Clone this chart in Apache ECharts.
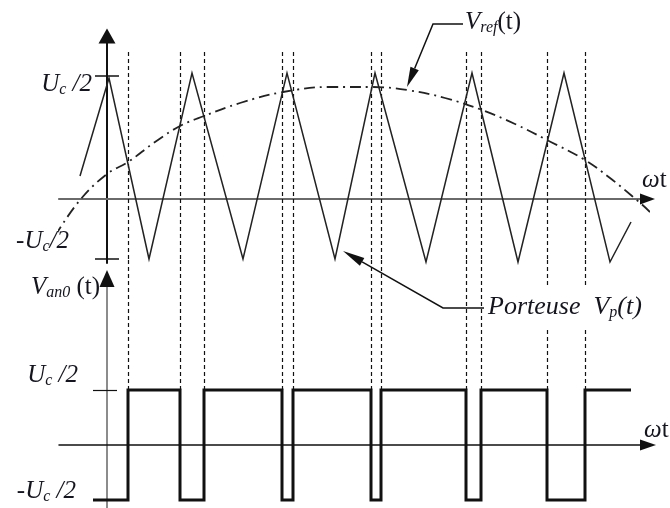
<!DOCTYPE html>
<html><head><meta charset="utf-8">
<script src="https://cdn.jsdelivr.net/npm/echarts@6/dist/echarts.min.js"></script>
<style>html,body{margin:0;padding:0;background:#fff}#c{width:670px;height:508px}</style>
</head><body><div id="c"></div>
<script>
// ---- data (ωt in drawing units, 0 = vertical axis; voltages in drawing units) ----
var carrierX = [-27, 2, 42, 85, 136, 180, 228, 268, 319, 365, 411, 457, 503, 524];
var carrierY = [23, 121, -60, 126, -60, 126, -60, 126, -63, 126, -63, 126, -63, -23];
var refX = [-52, -27, 0, 21, 48, 73, 97, 133, 176, 223, 265, 300, 338, 375, 408, 440, 478, 503, 525, 543, 563];
var refY = [-37, -1, 25, 37, 57, 73, 83, 96, 107, 112, 112, 109, 101, 89, 75, 59, 39, 21, 3, -13, -34];
var switchTimes = [21, 73, 97, 175, 186, 264, 274, 359, 374, 440, 478];
var pwmHigh = 55, pwmLow = -55, pwmStart = -14, pwmEnd = 524;
var topUc = 123, topMinusUc = -60;

var SERIF = "'Liberation Serif','DejaVu Serif',serif";
var INK = '#15151f';

function zip(a, b) { return a.map(function (v, i) { return [v, b[i]]; }); }

var pwm = [[pwmStart, pwmLow]], lvl = pwmLow;
switchTimes.forEach(function (t) {
  pwm.push([t, lvl]);
  lvl = (lvl === pwmHigh) ? pwmLow : pwmHigh;
  pwm.push([t, lvl]);
});
pwm.push([pwmEnd, lvl]);

var dashTop = switchTimes.map(function (t) { return { coords: [[t, 147], [t, -61]] }; });
var dashBot = switchTimes.map(function (t) { return { coords: [[t, 185], [t, pwmHigh]] }; });

var chart = echarts.init(document.getElementById('c'), null, { renderer: 'canvas' });

function rich(size) {
  return {
    i: { fontFamily: SERIF, fontStyle: 'italic', fontSize: size, lineHeight: 28, fill: INK, verticalAlign: 'middle' },
    n: { fontFamily: SERIF, fontStyle: 'normal', fontSize: size, lineHeight: 28, fill: INK, verticalAlign: 'middle' },
    s: { fontFamily: SERIF, fontStyle: 'italic', fontSize: Math.round(size * 0.62), lineHeight: 13, fill: INK, verticalAlign: 'bottom' }
  };
}
function txt(x, y, text, align, size) {
  return { type: 'text', x: x, y: y, z: 20,
    style: { text: text, rich: rich(size || 25), align: align, verticalAlign: 'middle', fill: INK } };
}
function arrowHead(from, tip, len, hw) {
  var dx = tip[0] - from[0], dy = tip[1] - from[1], L = Math.sqrt(dx * dx + dy * dy);
  var ux = dx / L, uy = dy / L;
  var bx = tip[0] - ux * len, by = tip[1] - uy * len;
  return { base: [bx, by], pts: [tip, [bx - uy * hw, by + ux * hw], [bx + uy * hw, by - ux * hw]] };
}
var a1 = arrowHead([433, 24], [407, 87], 20, 4.5);
var a2 = arrowHead([443, 308], [343, 251], 22, 4.5);

var axisOff = { show: false };
chart.setOption({
  animation: false,
  backgroundColor: '#fff',
  grid: [
    { left: 59, width: 589, top: 36, height: 227 },
    { left: 59, width: 589, top: 278.5, height: 229.5 }
  ],
  xAxis: [
    { gridIndex: 0, type: 'value', min: -48, max: 541, splitLine: axisOff, axisTick: axisOff, axisLabel: axisOff,
      axisLine: { show: true, onZero: true, symbol: 'none', lineStyle: { color: '#6a6a6a', width: 2.2 } } },
    { gridIndex: 1, type: 'value', min: -48, max: 541, splitLine: axisOff, axisTick: axisOff, axisLabel: axisOff,
      axisLine: { show: true, onZero: true, symbol: ['none', 'triangle'], symbolSize: [11, 16], lineStyle: { color: '#111', width: 1.5 } } }
  ],
  yAxis: [
    { gridIndex: 0, type: 'value', min: -64, max: 163, splitLine: axisOff, axisTick: axisOff, axisLabel: axisOff,
      axisLine: { show: true, onZero: true, symbol: ['none', 'triangle'], symbolSize: [17, 15], lineStyle: { color: '#111', width: 2 } } },
    { gridIndex: 1, type: 'value', min: -63, max: 166.5, splitLine: axisOff, axisTick: axisOff, axisLabel: axisOff,
      axisLine: { show: true, onZero: true, symbol: 'none', lineStyle: { color: '#666', width: 1.5 } } }
  ],
  series: [
    { type: 'line', xAxisIndex: 0, yAxisIndex: 0, data: zip(carrierX, carrierY), symbol: 'none', clip: false,
      lineStyle: { color: '#222', width: 1.5, join: 'miter' }, z: 5 },
    { type: 'line', xAxisIndex: 0, yAxisIndex: 0, data: zip(refX, refY), symbol: 'none', clip: false, smooth: 0.4,
      lineStyle: { color: '#222', width: 1.8, type: [11, 5, 2, 5] }, z: 5 },
    { type: 'lines', coordinateSystem: 'cartesian2d', xAxisIndex: 0, yAxisIndex: 0, data: dashTop, clip: false,
      lineStyle: { color: '#111', width: 1.2, type: [4, 3], opacity: 1 }, z: 4 },
    { type: 'lines', coordinateSystem: 'cartesian2d', xAxisIndex: 0, yAxisIndex: 0, clip: false,
      data: [{ coords: [[-12, topUc], [12, topUc]] }, { coords: [[-12, topMinusUc], [12, topMinusUc]] }],
      lineStyle: { color: '#111', width: 1.5, type: 'solid', opacity: 1 }, z: 5 },
    { type: 'lines', coordinateSystem: 'cartesian2d', xAxisIndex: 1, yAxisIndex: 1, data: dashBot, clip: false,
      lineStyle: { color: '#111', width: 1.2, type: [4, 3], opacity: 1 }, z: 4 },
    { type: 'lines', coordinateSystem: 'cartesian2d', xAxisIndex: 1, yAxisIndex: 1, clip: false,
      data: [{ coords: [[-14, pwmHigh], [10, pwmHigh]] }],
      lineStyle: { color: '#111', width: 1.2, type: 'solid', opacity: 1 }, z: 5 },
    { type: 'line', xAxisIndex: 1, yAxisIndex: 1, data: pwm, symbol: 'none', clip: false,
      lineStyle: { color: '#111', width: 3, join: 'miter', cap: 'butt' }, z: 6 }
  ],
  graphic: [
    { type: 'rect', z: 15, shape: { x: 486, y: 288, width: 166, height: 40 }, style: { fill: '#fff' } },
    { type: 'polygon', z: 20, shape: { points: [[655, 199], [640, 193.5], [640, 204.5]] }, style: { fill: '#111' } },
    { type: 'polygon', z: 20, shape: { points: [[107, 270], [99.5, 287], [114.5, 287]] }, style: { fill: '#111' } },
    txt(92, 84, '{i|U}{s|c}{i| /2}', 'right'),
    txt(69, 241, '{n|-}{i|U}{s|c}{i|/2}', 'right'),
    txt(100, 287, '{i|V}{s|an0}{n| (t)}', 'right'),
    txt(78, 375, '{i|U}{s|c}{i| /2}', 'right'),
    txt(76, 491, '{n|-}{i|U}{s|c}{i| /2}', 'right'),
    txt(642, 180, '{i|ω}{n|t}', 'left'),
    txt(644, 430, '{i|ω}{n|t}', 'left'),
    txt(465, 22, '{i|V}{s|ref}{n|(t)}', 'left'),
    txt(488, 307, '{i|Porteuse  V}{s|p}{i|(t)}', 'left', 26),
    { type: 'polyline', z: 20, shape: { points: [[463, 24], [433, 24], a1.base] }, style: { stroke: '#111', lineWidth: 1.5, fill: null } },
    { type: 'polygon', z: 20, shape: { points: a1.pts }, style: { fill: '#111' } },
    { type: 'polyline', z: 20, shape: { points: [[484, 308], [443, 308], a2.base] }, style: { stroke: '#111', lineWidth: 1.5, fill: null } },
    { type: 'polygon', z: 20, shape: { points: a2.pts }, style: { fill: '#111' } }
  ]
});
</script></body></html>
